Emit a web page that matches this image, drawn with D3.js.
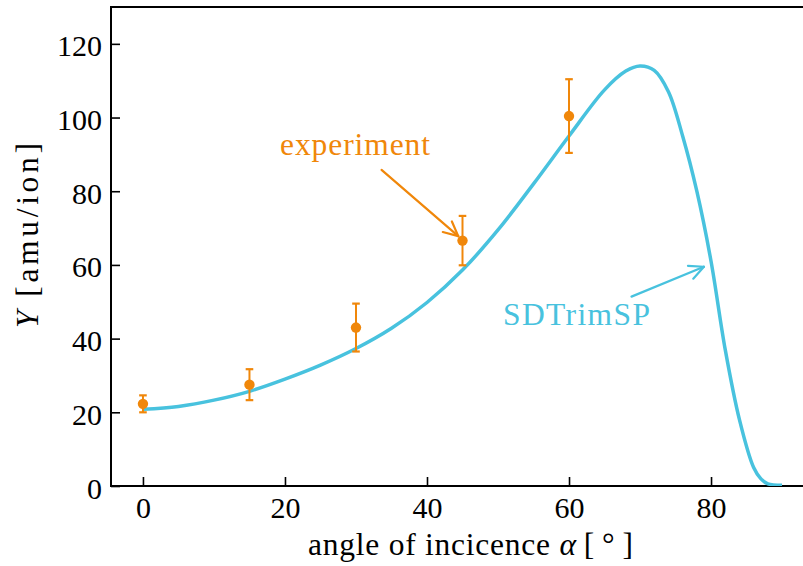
<!DOCTYPE html>
<html>
<head>
<meta charset="utf-8">
<script src="https://cdn.jsdelivr.net/npm/d3@7"></script>
<style>
  html, body { margin: 0; padding: 0; background: #fff; }
  svg { display: block; }
</style>
</head>
<body>
<svg id="chart" width="803" height="566"></svg>
<script>
// ---- data ----
const expAngles = [0, 15, 30, 45, 60];
const expYields = [22.3, 27.5, 43.0, 66.6, 100.4];
const expErrors = [2.3, 4.2, 6.5, 6.7, 10.0];

const simAngles = [0, 5, 10, 15, 20, 25, 30, 35, 40, 45, 50, 55, 60, 65, 68, 70, 72, 74, 76, 78, 80, 82, 84, 86, 87, 88, 90];
const simYields = [20.8, 21.6, 23.3, 25.7, 29.0, 32.8, 37.3, 42.8, 49.8, 58.6, 69.5, 82.0, 95.0, 107.5, 112.6, 114.0, 112.8, 107.0, 95.0, 80.0, 61.0, 37.0, 18.0, 5.0, 2.0, 0.6, 0.2];

const xTicks = [0, 20, 40, 60, 80];
const yTicks = [0, 20, 40, 60, 80, 100, 120];

const xLabel = "angle of incicence ";
const yLabel = "Y";
const expLabel = "experiment";
const simLabel = "SDTrimSP";

// ---- layout ----
const mLeft = 111, mTop = 7, mRight = 814, mBottom = 486;
const orange = "#f0870a", blue = "#48c2de";
const fsTick = 30, fsLab = 31.5;
const FONT = "'Liberation Serif', 'Times New Roman', Tinos, 'DejaVu Serif', serif";

const svg = d3.select("#chart");
const x = d3.scaleLinear().domain([-4.5, 94.5]).range([mLeft, mRight]);
const y = d3.scaleLinear().domain([0, 130]).range([mBottom, mTop]);

// axes
const xAxis = d3.axisBottom(x).tickValues(xTicks).tickFormat(d3.format("d"))
  .tickSizeInner(-9).tickSizeOuter(0).tickPadding(11);
const yAxis = d3.axisLeft(y).tickValues(yTicks).tickFormat(d3.format("d"))
  .tickSizeInner(-9).tickSizeOuter(0).tickPadding(9);

const gx = svg.append("g").attr("transform", `translate(0,${mBottom})`).call(xAxis);
const gy = svg.append("g").attr("transform", `translate(${mLeft},0)`).call(yAxis);
[gx, gy].forEach(g => {
  g.attr("font-family", null).attr("font-size", null);
  g.select(".domain").remove();
  g.selectAll(".tick line").attr("stroke", "#000").attr("stroke-width", 1.6);
  g.selectAll(".tick text").attr("fill", "#000").attr("font-size", fsTick)
    .attr("font-family", FONT);
});
gy.selectAll(".tick text").attr("dy", "0.40em");

// spines
svg.append("rect").attr("x", mLeft).attr("y", mTop)
  .attr("width", mRight - mLeft).attr("height", mBottom - mTop)
  .attr("fill", "none").attr("stroke", "#000").attr("stroke-width", 2);

// clip
svg.append("clipPath").attr("id", "clip").append("rect")
  .attr("x", mLeft).attr("y", mTop).attr("width", mRight - mLeft).attr("height", mBottom - mTop);

// simulation curve
const simData = simAngles.map((a, i) => [a, simYields[i]]);
svg.append("path").datum(simData)
  .attr("clip-path", "url(#clip)")
  .attr("fill", "none").attr("stroke", blue).attr("stroke-width", 3.5)
  .attr("stroke-linejoin", "round")
  .attr("d", d3.line().x(d => x(d[0])).y(d => y(d[1])).curve(d3.curveCatmullRom.alpha(0.5)));

// experiment error bars
const expData = expAngles.map((a, i) => ({a, v: expYields[i], e: expErrors[i]}));
const eg = svg.append("g");
eg.selectAll("line.bar").data(expData).join("line")
  .attr("x1", d => x(d.a)).attr("x2", d => x(d.a))
  .attr("y1", d => y(d.v - d.e)).attr("y2", d => y(d.v + d.e))
  .attr("stroke", orange).attr("stroke-width", 2);
["lo", "hi"].forEach(k => {
  eg.selectAll("line.cap" + k).data(expData).join("line")
    .attr("x1", d => x(d.a) - 3.8).attr("x2", d => x(d.a) + 3.8)
    .attr("y1", d => y(k === "lo" ? d.v - d.e : d.v + d.e))
    .attr("y2", d => y(k === "lo" ? d.v - d.e : d.v + d.e))
    .attr("stroke", orange).attr("stroke-width", 2.2);
});
eg.selectAll("circle").data(expData).join("circle")
  .attr("cx", d => x(d.a)).attr("cy", d => y(d.v)).attr("r", 5.2)
  .attr("fill", orange);

// annotations
function arrow(x0, y0, x1, y1, color) {
  const g = svg.append("g").attr("stroke", color).attr("stroke-width", 2.2)
    .attr("fill", "none").attr("stroke-linecap", "round");
  g.append("line").attr("x1", x0).attr("y1", y0).attr("x2", x1).attr("y2", y1);
  const ang = Math.atan2(y1 - y0, x1 - x0);
  const L = 16, half = 0.45;
  [ang + Math.PI - half, ang + Math.PI + half].forEach(t => {
    g.append("line").attr("x1", x1).attr("y1", y1)
      .attr("x2", x1 + L * Math.cos(t)).attr("y2", y1 + L * Math.sin(t));
  });
}
arrow(x(33.6), y(85.8), x(44.4), y(67.8), orange);
arrow(x(68.8), y(51.4), x(79.0), y(59.5), blue);

svg.append("text").attr("x", x(19.3)).attr("y", y(89.7))
  .attr("fill", orange).attr("font-family", FONT).attr("font-size", fsLab)
  .attr("textLength", 150).attr("lengthAdjust", "spacing").text(expLabel);
svg.append("text").attr("x", x(50.7)).attr("y", y(43.7))
  .attr("fill", blue).attr("font-family", FONT).attr("font-size", fsLab)
  .attr("textLength", 147).attr("lengthAdjust", "spacing").text(simLabel);

// axis labels
const xl = svg.append("text").attr("x", 308).attr("y", 555)
  .attr("font-family", FONT).attr("font-size", fsLab).attr("fill", "#000")
  .attr("textLength", 325).attr("lengthAdjust", "spacing");
xl.append("tspan").text(xLabel);
xl.append("tspan").attr("font-style", "italic").text("α");
xl.append("tspan").text("\u2009[\u2009°\u2009]");

const yl = svg.append("text").attr("transform", "translate(38,328) rotate(-90)")
  .attr("font-family", FONT).attr("font-size", fsLab).attr("fill", "#000")
  .attr("textLength", 185).attr("lengthAdjust", "spacing");
yl.append("tspan").attr("font-style", "italic").text(yLabel);
yl.append("tspan").text("\u2009[amu/ion]");
</script>
</body>
</html>
